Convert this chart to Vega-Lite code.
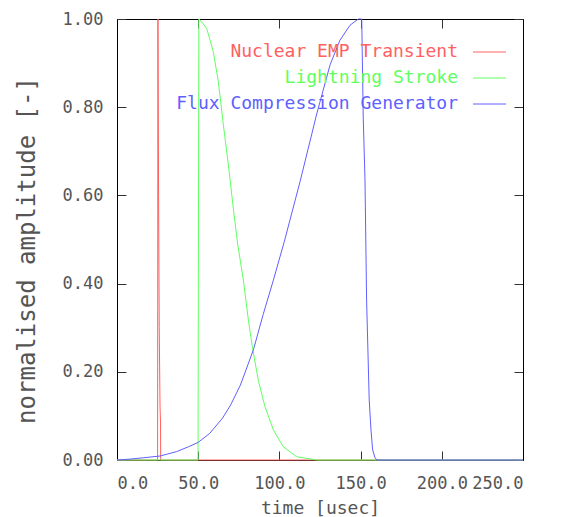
{
  "$schema": "https://vega.github.io/schema/vega-lite/v6.json",
  "width": 406,
  "height": 441,
  "autosize": "none",
  "padding": {"left": 117, "top": 19, "right": 38, "bottom": 57},
  "background": "white",
  "config": {
    "view": {"stroke": null},
    "font": "DejaVu Sans Mono",
    "axis": {
      "grid": false,
      "domainColor": "black",
      "domainWidth": 1,
      "tickColor": "#333333",
      "tickWidth": 1,
      "tickSize": -9,
      "labelColor": "#555555",
      "titleColor": "#555555",
      "labelFont": "DejaVu Sans Mono",
      "titleFont": "DejaVu Sans Mono",
      "labelFontSize": 17,
      "titleFontSize": 18,
      "titleFontWeight": "normal"
    }
  },
  "data": {
    "values": [
      {"s": "Nuclear EMP Transient", "t": 0, "v": 0},
      {"s": "Nuclear EMP Transient", "t": 25.0, "v": 0},
      {"s": "Nuclear EMP Transient", "t": 25.2, "v": 1.0},
      {"s": "Nuclear EMP Transient", "t": 25.6, "v": 0.6},
      {"s": "Nuclear EMP Transient", "t": 26.0, "v": 0.3},
      {"s": "Nuclear EMP Transient", "t": 26.5, "v": 0.12},
      {"s": "Nuclear EMP Transient", "t": 26.8, "v": 0.086},
      {"s": "Nuclear EMP Transient", "t": 26.9, "v": 0},
      {"s": "Nuclear EMP Transient", "t": 250, "v": 0},
      {"s": "Lightning Stroke", "t": 0, "v": 0},
      {"s": "Lightning Stroke", "t": 49.9, "v": 0},
      {"s": "Lightning Stroke", "t": 50.4, "v": 1.0},
      {"s": "Lightning Stroke", "t": 51.1, "v": 0.998},
      {"s": "Lightning Stroke", "t": 55.2, "v": 0.979},
      {"s": "Lightning Stroke", "t": 59.3, "v": 0.926},
      {"s": "Lightning Stroke", "t": 62.4, "v": 0.858},
      {"s": "Lightning Stroke", "t": 65.5, "v": 0.76},
      {"s": "Lightning Stroke", "t": 68.6, "v": 0.669},
      {"s": "Lightning Stroke", "t": 71.6, "v": 0.571},
      {"s": "Lightning Stroke", "t": 74.3, "v": 0.49},
      {"s": "Lightning Stroke", "t": 77.8, "v": 0.408},
      {"s": "Lightning Stroke", "t": 80.9, "v": 0.317},
      {"s": "Lightning Stroke", "t": 83.5, "v": 0.253},
      {"s": "Lightning Stroke", "t": 87.0, "v": 0.181},
      {"s": "Lightning Stroke", "t": 91.1, "v": 0.121},
      {"s": "Lightning Stroke", "t": 96.3, "v": 0.068},
      {"s": "Lightning Stroke", "t": 102.4, "v": 0.03},
      {"s": "Lightning Stroke", "t": 110.6, "v": 0.0075},
      {"s": "Lightning Stroke", "t": 123, "v": 0},
      {"s": "Lightning Stroke", "t": 250, "v": 0},
      {"s": "Flux Compression Generator", "t": 0, "v": 0},
      {"s": "Flux Compression Generator", "t": 8, "v": 0.002},
      {"s": "Flux Compression Generator", "t": 16.2, "v": 0.005},
      {"s": "Flux Compression Generator", "t": 26.5, "v": 0.009},
      {"s": "Flux Compression Generator", "t": 36.7, "v": 0.019},
      {"s": "Flux Compression Generator", "t": 44, "v": 0.03},
      {"s": "Flux Compression Generator", "t": 50, "v": 0.04},
      {"s": "Flux Compression Generator", "t": 57, "v": 0.06},
      {"s": "Flux Compression Generator", "t": 65, "v": 0.095},
      {"s": "Flux Compression Generator", "t": 70, "v": 0.125},
      {"s": "Flux Compression Generator", "t": 76, "v": 0.17},
      {"s": "Flux Compression Generator", "t": 84, "v": 0.25},
      {"s": "Flux Compression Generator", "t": 90, "v": 0.33},
      {"s": "Flux Compression Generator", "t": 96.3, "v": 0.408},
      {"s": "Flux Compression Generator", "t": 103, "v": 0.495},
      {"s": "Flux Compression Generator", "t": 112.7, "v": 0.631},
      {"s": "Flux Compression Generator", "t": 123, "v": 0.785},
      {"s": "Flux Compression Generator", "t": 131.2, "v": 0.896},
      {"s": "Flux Compression Generator", "t": 137.3, "v": 0.952},
      {"s": "Flux Compression Generator", "t": 143.5, "v": 0.986},
      {"s": "Flux Compression Generator", "t": 148.6, "v": 1.0},
      {"s": "Flux Compression Generator", "t": 150.7, "v": 1.0},
      {"s": "Flux Compression Generator", "t": 151.6, "v": 0.78},
      {"s": "Flux Compression Generator", "t": 152.7, "v": 0.635},
      {"s": "Flux Compression Generator", "t": 153.7, "v": 0.363},
      {"s": "Flux Compression Generator", "t": 155.3, "v": 0.136},
      {"s": "Flux Compression Generator", "t": 156.4, "v": 0.068},
      {"s": "Flux Compression Generator", "t": 157.4, "v": 0.023},
      {"s": "Flux Compression Generator", "t": 158.9, "v": 0.005},
      {"s": "Flux Compression Generator", "t": 160, "v": 0},
      {"s": "Flux Compression Generator", "t": 250, "v": 0}
    ]
  },
  "layer": [
    {
      "mark": {"type": "line", "strokeWidth": 1, "strokeOpacity": 0},
      "encoding": {
        "x": {"field": "t", "type": "quantitative", "scale": {"domain": [0, 250], "nice": false},
              "axis": {"orient": "top", "values": [0, 50, 100, 150, 200, 250], "labels": false, "title": null}},
        "y": {"field": "v", "type": "quantitative", "scale": {"domain": [0, 1], "nice": false},
              "axis": {"orient": "right", "values": [0, 0.2, 0.4, 0.6, 0.8, 1.0], "labels": false, "title": null}},
        "detail": {"field": "s", "type": "nominal"}
      }
    },
    {
      "mark": {"type": "line", "strokeWidth": 1},
      "encoding": {
        "x": {"field": "t", "type": "quantitative",
              "axis": {"orient": "bottom", "values": [0, 50, 100, 150, 200, 250], "format": ".1f", "title": "time [usec]", "labelPadding": 24, "titlePadding": 8}},
        "y": {"field": "v", "type": "quantitative",
              "axis": {"orient": "left", "values": [0, 0.2, 0.4, 0.6, 0.8, 1.0], "format": ".2f", "title": "normalised amplitude [-]", "titleFontSize": 24, "titleY": 231, "labelPadding": 23, "titlePadding": 23}},
        "color": {
          "field": "s", "type": "nominal",
          "scale": {"domain": ["Nuclear EMP Transient", "Lightning Stroke", "Flux Compression Generator"], "range": ["#ff6060", "#60ff60", "#6060ff"]},
          "legend": {
            "orient": "none",
            "legendX": 341,
            "legendY": 16,
            "title": null,
            "symbolType": "stroke",
            "symbolSize": 1089,
            "symbolStrokeWidth": 1,
            "labelFont": "DejaVu Sans Mono",
            "labelFontSize": 18,
            "rowPadding": -11,
            "labelLimit": 400,
            "encode": {
              "labels": {"update": {"fill": {"scale": "color", "field": "value"}, "x": {"value": 0}, "align": {"value": "right"}}},
              "symbols": {"update": {"x": {"value": 31.5}}}
            }
          }
        }
      }
    }
  ],
  "resolve": {"axis": {"x": "independent", "y": "independent"}}
}
